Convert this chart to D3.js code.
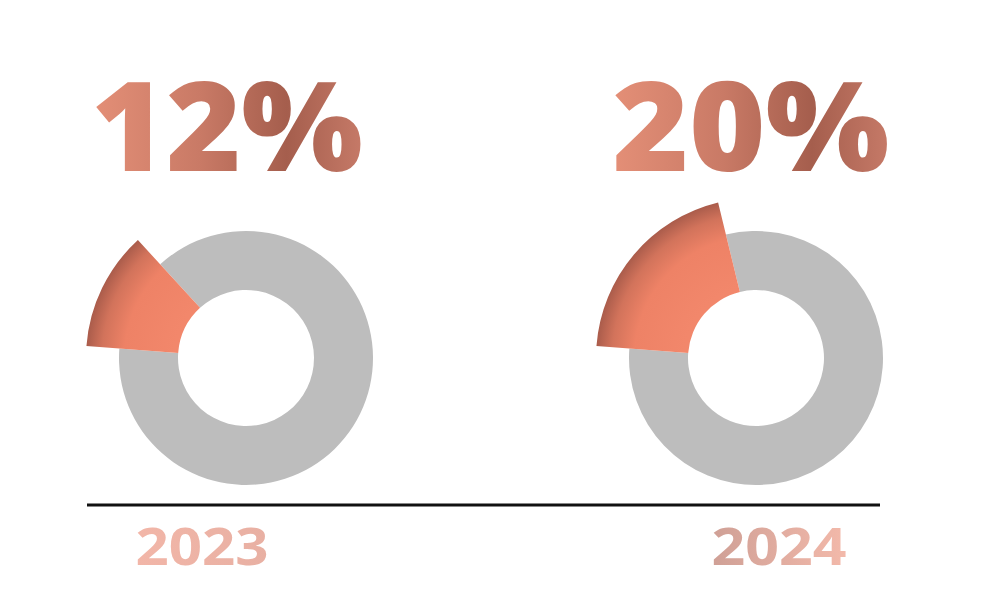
<!DOCTYPE html>
<html>
<head>
<meta charset="utf-8">
<script src="https://cdn.jsdelivr.net/npm/d3@7"></script>
<style>
  html, body { margin: 0; padding: 0; background: #fff; }
  svg { display: block; }
</style>
</head>
<body>
<div id="chart"></div>
<script>
var w = 1000;
var h = 600;

// data
var years = ["2023", "2024"];
var shares = [12, 20];           // percent highlighted
var shareLabels = ["12%", "20%"];

// layout
var innerR = 68, ringR = 127, sliceR = 160;
var cy = 358;
var startDeg = 274.3;            // where the orange slice begins (clockwise from top)
var pctDx = [-19, -5];           // big % label nudges from donut centre
var pctLen = [272, 277];
var yearDx = [-44, 23];
var yearLen = [133, 135];

var x = d3.scalePoint().domain(years).range([246, 756]);

var svg = d3.select("#chart").append("svg")
    .attr("width", w)
    .attr("height", h);

var defs = svg.append("defs");

// gradient for the big numbers
var tg = defs.append("linearGradient")
    .attr("id", "numGrad")
    .attr("x1", "0%").attr("x2", "100%").attr("y1", "0%").attr("y2", "0%");
[["0%", "#e48f77"], ["40%", "#c97a66"], ["72%", "#a55e4d"], ["100%", "#c67a68"]].forEach(function(s) {
    tg.append("stop").attr("offset", s[0]).attr("stop-color", s[1]);
});

// gradients for the year labels
var yg = defs.append("linearGradient").attr("id", "yearGrad0");
yg.append("stop").attr("offset", "0%").attr("stop-color", "#f2b6a8");
yg.append("stop").attr("offset", "100%").attr("stop-color", "#e8b0a3");
var yg2 = defs.append("linearGradient").attr("id", "yearGrad1");
yg2.append("stop").attr("offset", "0%").attr("stop-color", "#cfa096");
yg2.append("stop").attr("offset", "100%").attr("stop-color", "#f3b9aa");

// radial shading for the slices (centred on each donut's own origin)
var rg = defs.append("radialGradient")
    .attr("id", "sliceGrad")
    .attr("gradientUnits", "userSpaceOnUse")
    .attr("cx", 0).attr("cy", 0).attr("r", sliceR);
[[0, "#f3886c"], [0.45, "#f2876b"], [0.76, "#ee8266"], [0.9, "#d2735b"], [1, "#aa5c4b"]].forEach(function(s) {
    rg.append("stop").attr("offset", s[0]).attr("stop-color", s[1]);
});

var a0 = startDeg * Math.PI / 180;
var pie = d3.pie().sort(null).startAngle(a0).endAngle(a0 + 2 * Math.PI);
var ringArc = d3.arc().innerRadius(innerR).outerRadius(ringR);
var sliceArc = d3.arc().innerRadius(innerR).outerRadius(sliceR);

years.forEach(function(y, i) {
    var slices = pie([shares[i], 100 - shares[i]]);
    var g = svg.append("g").attr("transform", "translate(" + x(y) + "," + cy + ")");

    // grey remainder
    g.append("path")
        .attr("d", ringArc(slices[1]))
        .attr("fill", "#bdbdbd");

    // highlighted share, pulled out past the ring
    g.append("path")
        .attr("d", sliceArc(slices[0]))
        .attr("fill", "url(#sliceGrad)");

    svg.append("text")
        .attr("x", x(y) + pctDx[i])
        .attr("y", 171)
        .attr("text-anchor", "middle")
        .attr("textLength", pctLen[i])
        .attr("lengthAdjust", "spacingAndGlyphs")
        .style("font-family", "'Open Sans', sans-serif")
        .style("font-weight", 800)
        .style("font-size", "124px")
        .attr("fill", "url(#numGrad)")
        .text(shareLabels[i]);

    svg.append("text")
        .attr("x", x(y) + yearDx[i])
        .attr("y", 565)
        .attr("text-anchor", "middle")
        .attr("textLength", yearLen[i])
        .attr("lengthAdjust", "spacingAndGlyphs")
        .style("font-family", "'Open Sans', sans-serif")
        .style("font-weight", 700)
        .style("font-size", "52px")
        .attr("fill", "url(#yearGrad" + i + ")")
        .text(y);
});

// baseline
svg.append("line")
    .attr("x1", 87).attr("x2", 880)
    .attr("y1", 505).attr("y2", 505)
    .attr("stroke", "#111")
    .attr("stroke-width", 3);
</script>
</body>
</html>
